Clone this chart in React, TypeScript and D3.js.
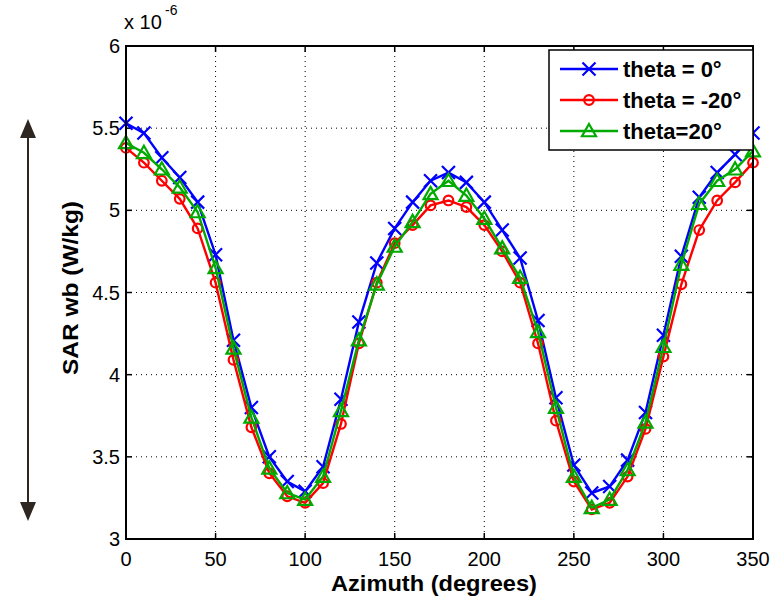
import React from "react";
import * as d3 from "d3";

const azimuth = [0,10,20,30,40,50,60,70,80,90,100,110,120,130,140,150,160,170,180,190,200,210,220,230,240,250,260,270,280,290,300,310,320,330,340,350];
const theta0 = [5.53,5.47,5.32,5.20,5.05,4.73,4.21,3.80,3.50,3.35,3.29,3.44,3.85,4.32,4.68,4.89,5.05,5.18,5.23,5.17,5.05,4.88,4.71,4.33,3.86,3.45,3.28,3.32,3.48,3.77,4.24,4.72,5.08,5.23,5.34,5.47];
const thetaM20 = [5.38,5.29,5.18,5.07,4.89,4.56,4.09,3.68,3.40,3.26,3.22,3.34,3.70,4.19,4.56,4.80,4.91,5.03,5.06,5.02,4.91,4.75,4.56,4.19,3.72,3.35,3.18,3.22,3.38,3.67,4.11,4.55,4.88,5.06,5.17,5.29];
const thetaP20 = [5.41,5.35,5.25,5.14,4.99,4.65,4.16,3.74,3.43,3.28,3.24,3.38,3.78,4.21,4.55,4.78,4.93,5.10,5.18,5.09,4.95,4.77,4.59,4.26,3.80,3.38,3.19,3.24,3.42,3.71,4.17,4.67,5.04,5.18,5.25,5.36];
const xTicks = [0,50,100,150,200,250,300,350];
const yTicks = [3,3.5,4,4.5,5,5.5,6];
const seriesNames = ["theta = 0°", "theta = -20°", "theta=20°"];

const W = 779, H = 600;
const L = 126, R = 753, T = 46, B = 539;

type S = { name: string; values: number[]; color: string; marker: "x" | "o" | "tri" };
const series: S[] = [
  { name: seriesNames[0], values: theta0, color: "#0000ff", marker: "x" },
  { name: seriesNames[1], values: thetaM20, color: "#ff0000", marker: "o" },
  { name: seriesNames[2], values: thetaP20, color: "#00aa00", marker: "tri" },
];

function Marker({ kind, x, y, color }: { kind: string; x: number; y: number; color: string }) {
  if (kind === "x") {
    const s = 6.5;
    return <path d={`M${x - s},${y - s}L${x + s},${y + s}M${x - s},${y + s}L${x + s},${y - s}`} stroke={color} strokeWidth={2.2} fill="none" />;
  }
  if (kind === "o") {
    return <circle cx={x} cy={y} r={4.8} stroke={color} strokeWidth={2.2} fill="none" />;
  }
  const s = 7;
  return <path d={`M${x},${y - s}L${x + s},${y + s * 0.75}L${x - s},${y + s * 0.75}Z`} stroke={color} strokeWidth={2.2} fill="none" />;
}

export default function App() {
  const x = d3.scaleLinear().domain([0, 350]).range([L, R]);
  const y = d3.scaleLinear().domain([3, 6]).range([B, T]);
  const line = d3.line<number>().x((_, i) => x(azimuth[i])).y((v) => y(v));
  const font = "Liberation Sans, Arial, sans-serif";
  return (
    <svg width={W} height={H} style={{ position: "absolute", left: 0, top: 0, background: "#fff" }} fontFamily={font}>
      <rect x={0} y={0} width={W} height={H} fill="#fff" />
      {/* grid */}
      {xTicks.slice(1, -1).map((t) => (
        <line key={"gx" + t} x1={x(t)} x2={x(t)} y1={T} y2={B} stroke="#000" strokeWidth={1} strokeDasharray="1,4" />
      ))}
      {yTicks.slice(1, -1).map((t) => (
        <line key={"gy" + t} x1={L} x2={R} y1={y(t)} y2={y(t)} stroke="#000" strokeWidth={1} strokeDasharray="1,4" />
      ))}
      {/* ticks */}
      {xTicks.map((t) => (
        <g key={"tx" + t}>
          <line x1={x(t)} x2={x(t)} y1={B} y2={B - 6} stroke="#000" strokeWidth={1.5} />
          <line x1={x(t)} x2={x(t)} y1={T} y2={T + 6} stroke="#000" strokeWidth={1.5} />
          <text x={x(t)} y={566} textAnchor="middle" fontSize={20} fill="#000">{t}</text>
        </g>
      ))}
      {yTicks.map((t) => (
        <g key={"ty" + t}>
          <line x1={L} x2={L + 6} y1={y(t)} y2={y(t)} stroke="#000" strokeWidth={1.5} />
          <line x1={R} x2={R - 6} y1={y(t)} y2={y(t)} stroke="#000" strokeWidth={1.5} />
          <text x={120} y={y(t) + 7} textAnchor="end" fontSize={20} fill="#000">{t}</text>
        </g>
      ))}
      {/* series */}
      {series.map((s) => (
        <g key={s.name}>
          <path d={line(s.values) || ""} stroke={s.color} strokeWidth={2.4} fill="none" />
          {s.values.map((v, i) => (
            <Marker key={i} kind={s.marker} x={x(azimuth[i])} y={y(v)} color={s.color} />
          ))}
        </g>
      ))}
      {/* box */}
      <rect x={L} y={T} width={R - L} height={B - T} fill="none" stroke="#000" strokeWidth={2} />
      {/* exponent */}
      <text x={124} y={29} fontSize={20} fill="#000">x 10</text>
      <text x={165} y={15} fontSize={14} fill="#000">-6</text>
      {/* legend */}
      <rect x={549} y={50} width={R - 549} height={100} fill="#fff" stroke="#000" strokeWidth={1.5} />
      {series.map((s, i) => {
        const ly = 69 + i * 31;
        return (
          <g key={"lg" + i}>
            <line x1={560} x2={618} y1={ly} y2={ly} stroke={s.color} strokeWidth={2.4} />
            <Marker kind={s.marker} x={589} y={ly} color={s.color} />
            <text x={623} y={ly + 8} fontSize={22} fontWeight="bold" fill="#000">{s.name}</text>
          </g>
        );
      })}
      {/* axis labels */}
      <text x={434} y={591} textAnchor="middle" fontSize={22} fontWeight="bold" fill="#000" textLength={206} lengthAdjust="spacingAndGlyphs">Azimuth (degrees)</text>
      <text transform={`translate(78,288) rotate(-90)`} textAnchor="middle" fontSize={22} fontWeight="bold" fill="#000" textLength={174} lengthAdjust="spacingAndGlyphs">SAR wb (W/kg)</text>
      {/* double arrow */}
      <line x1={28} x2={28} y1={134} y2={506} stroke="#2e2620" strokeWidth={2} />
      <path d="M28,119L36,138L20,138Z" fill="#2e2620" />
      <path d="M28,521L36,502L20,502Z" fill="#2e2620" />
    </svg>
  );
}
